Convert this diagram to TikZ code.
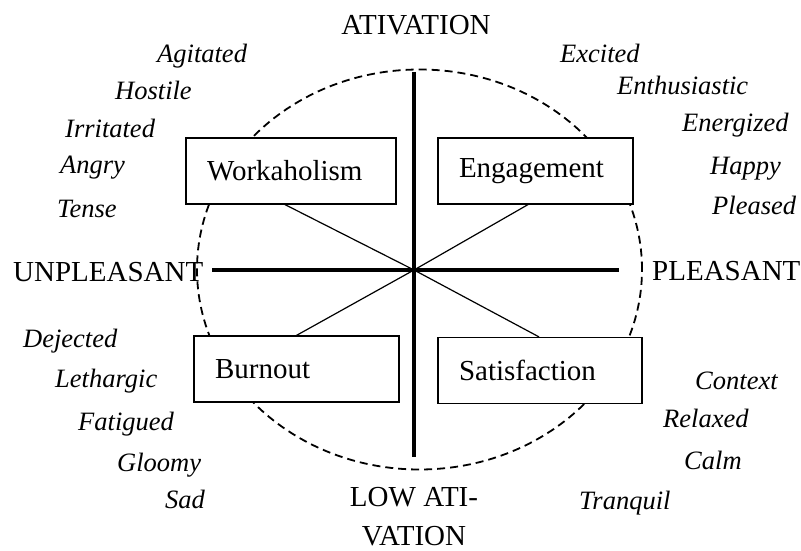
\documentclass[tikz,border=0pt]{standalone}
\usepackage{fontspec}
\setmainfont{Liberation Serif}
\usetikzlibrary{positioning}

\begin{document}
\begin{tikzpicture}[x=1bp, y=-1bp,
  box/.style={draw, fill=white, line width=1.2bp, minimum height=66bp, inner xsep=21bp, inner ysep=0pt, align=left, font=\fontsize{29bp}{34bp}\selectfont},
  mood/.style={inner sep=0pt, anchor=base west, font=\fontsize{26.5bp}{30bp}\selectfont\itshape},
  pole/.style={inner sep=0pt, font=\fontsize{29bp}{39bp}\selectfont},
  axis/.style={line width=4bp},
  spoke/.style={line width=1.2bp}]
  \useasboundingbox (0,0) rectangle (801,551);

  % circumplex and axes
  \draw[line width=1.8bp, dash pattern=on 8bp off 5bp] (419.5,269.5) ellipse [x radius=222.5bp, y radius=200bp];
  \coordinate (hub) at (414,270);
  \coordinate (west) at (212,270);
  \coordinate (east) at (619,270);
  \coordinate (north) at (414,72);
  \coordinate (south) at (414,457);
  \draw[axis] (west) -- (east);
  \draw[axis] (north) -- (south);

  % quadrants
  \node[box, text width=168bp] (work) at (291,171) {Workaholism};
  \node[box, text width=153bp] (eng) at (535.5,171) {Engagement};
  \node[box, text width=163bp] (burn) at (296.5,369) {Burnout};
  \node[box, text width=162bp] (sat) at (540,370.5) {Satisfaction};
  \draw[spoke] (hub) -- ([xshift=-6bp]work.south);
  \draw[spoke] (hub) -- ([xshift=-7.5bp]eng.south);
  \draw[spoke] (hub) -- (burn.north);
  \draw[spoke] (hub) -- ([xshift=-1bp]sat.north);

  % axis labels
  \node[pole, anchor=base] (act) at (416,35) {ATIVATION};
  \node[pole, anchor=base west] (unpl) at (13,282) {UNPLEASANT};
  \node[pole, anchor=base west] (pleas) at (652,281) {PLEASANT};
  \node[pole, align=center, anchor=north] (low) at (414,487) {LOW ATI-\\VATION};

  % affect words
  \node[mood] (agit) at (157,63) {Agitated};
  \node[mood] (host) at (115,100) {Hostile};
  \node[mood] (irri) at (65,138) {Irritated};
  \node[mood] (angr) at (60,174) {Angry};
  \node[mood] (tens) at (57,218) {Tense};
  \node[mood] (exci) at (560,63) {Excited};
  \node[mood] (enth) at (617,95) {Enthusiastic};
  \node[mood] (ener) at (682,132) {Energized};
  \node[mood] (happ) at (710,175) {Happy};
  \node[mood] (plea) at (712,215) {Pleased};
  \node[mood] (deje) at (23,347) {Dejected};
  \node[mood] (leth) at (55,387) {Lethargic};
  \node[mood] (fati) at (78,430) {Fatigued};
  \node[mood] (gloo) at (117,471) {Gloomy};
  \node[mood] (sadd) at (165,508) {Sad};
  \node[mood] (cont) at (695,389) {Context};
  \node[mood] (rela) at (663,427) {Relaxed};
  \node[mood] (calm) at (684,469) {Calm};
  \node[mood] (tran) at (579,509) {Tranquil};
\end{tikzpicture}
\end{document}
